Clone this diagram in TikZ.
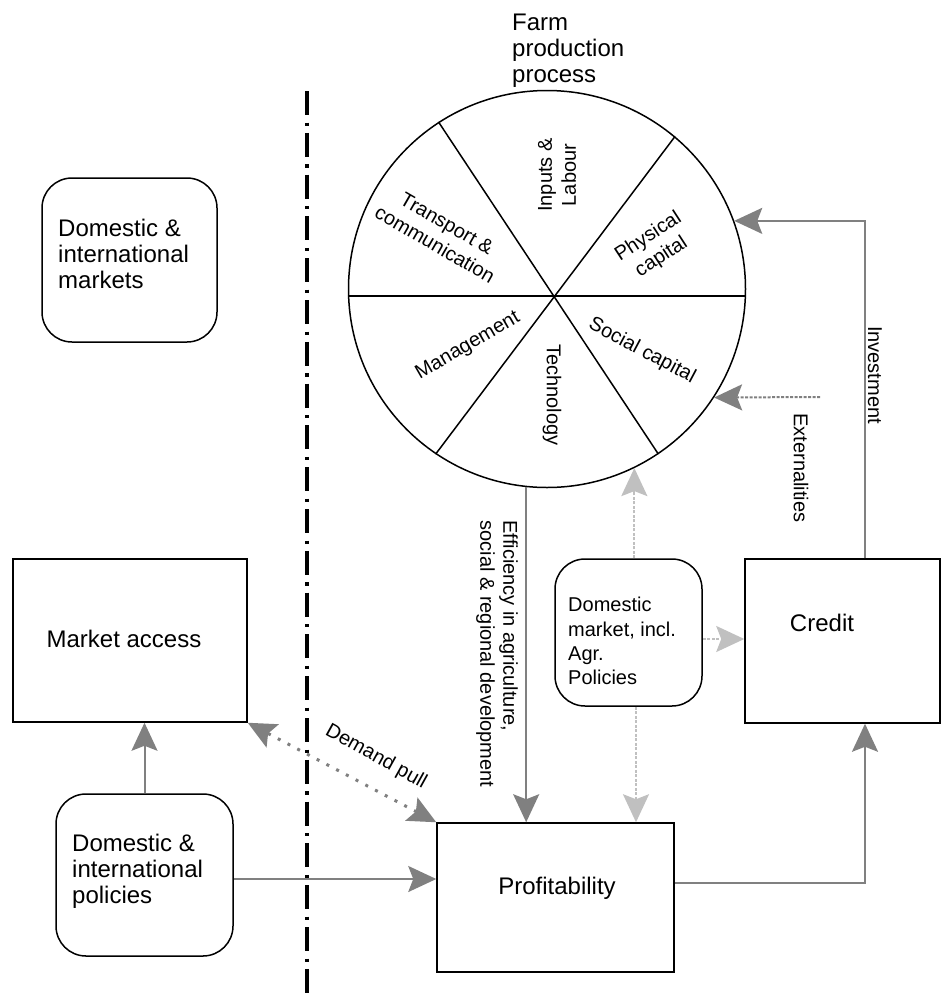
\documentclass[tikz,border=0pt]{standalone}
\usepackage{fontspec}
\setmainfont{Liberation Sans}
\usetikzlibrary{arrows.meta}
\definecolor{dgray}{HTML}{808080}
\definecolor{lgray}{HTML}{C0C0C0}
\tikzset{
  big/.style={font=\fontsize{24}{26}\selectfont, inner sep=0pt},
  small/.style={font=\fontsize{20}{24}\selectfont, inner sep=0pt},
  box/.style={draw, line width=1.5pt, inner sep=0pt},
  rbox/.style={box, rounded corners=30pt},
  headtip/.tip={Stealth[length=28pt,width=26pt,inset=5pt]},
  flow/.style={dgray, line width=2pt, -headtip},
  lflow/.style={lgray, line width=2pt, dash pattern=on 3pt off 1.5pt, -headtip},
  dflow/.style={dgray, line width=2pt, dash pattern=on 3pt off 1.5pt, -headtip},
  demand/.style={dgray, line width=3pt, dash pattern=on 3pt off 8pt, headtip-headtip},
  divider/.style={black, line width=3.3pt, dash pattern=on 24pt off 7.5pt on 3.3pt off 7pt},
  spoke/.style={black, line width=1.5pt}
}
\begin{document}
\begin{tikzpicture}[x=1pt,y=-1pt]
\useasboundingbox[fill=white] (0,0) rectangle (943,994);

% divider
\coordinate (dtop) at (307,91);
\coordinate (dbot) at (307,993);
\draw[divider] (dtop) -- (dbot);

% wheel
\node[draw, line width=1.5pt, circle, minimum size=397pt, inner sep=0pt] (wheel) at (547,289) {};
\draw[spoke] (wheel.182.3) -- (wheel.-2.3);
\draw[spoke] (wheel.123.3) -- (wheel.-56.5);
\draw[spoke] (wheel.50.7) -- (wheel.236.7);

\node[big, anchor=west, align=left] (title) at (512,51) {Farm\\production\\process};

\node[small, align=center, rotate=90] (inputs) at (557,175) {Inputs \&\\Labour};
\node[small, align=center, rotate=-30] (transport) at (441,234) {Transport \&\\communication};
\node[small, align=center, rotate=33] (physical) at (655,247) {Physical\\capital};
\node[small, rotate=30] (mgmt) at (468,346) {Management};
\node[small, rotate=-90] (tech) at (552,395) {Technology};
\node[small, rotate=-28] (social) at (642,351) {Social capital};

% boxes
\node[rbox, minimum width=175pt, minimum height=164pt] (mkts) at (129.5,260) {};
\node[big, anchor=west, align=left] (mktstxt) at (58,254) {Domestic \&\\international\\markets};

\node[box, minimum width=234pt, minimum height=163pt] (access) at (130,640.5) {};
\node[big] (accesstxt) at (124,638.5) {Market access};

\node[rbox, minimum width=177pt, minimum height=162pt] (pol) at (144.5,875) {};
\node[big, anchor=west, align=left] (poltxt) at (72,871) {Domestic \&\\international\\policies};

\node[box, minimum width=237pt, minimum height=149pt] (profit) at (555.5,897.5) {};
\node[big] (profittxt) at (557,888) {Profitability};

\node[box, minimum width=195pt, minimum height=164pt] (credit) at (842.5,641) {};
\node[big] (credittxt) at (822,623) {Credit};

\node[rbox, minimum width=147pt, minimum height=147pt] (dommkt) at (628.5,632.5) {};
\node[small, anchor=west, align=left, font=\fontsize{20}{24.2}\selectfont] (dommkttxt) at (568,641) {Domestic\\market, incl.\\Agr.\\Policies};

% helper coordinates
\coordinate (h879) at (0,879);
\coordinate (h883) at (0,883);
\coordinate (h639) at (0,639);
\coordinate (v636) at (636,0);
\coordinate (v865) at (865,0);
\coordinate (ext) at (820,397);

% connectors
\draw[flow] (pol.north) -- (access.south -| pol.north);
\draw[flow] (pol.east |- h879) -- (profit.west |- h879);
\draw[demand] (profit.north west) -- (access.south east);
\draw[flow] (wheel.-96.4) -- (wheel.-96.4 |- profit.north);
\draw[lflow] (wheel.-64.3 |- dommkt.north) -- (wheel.-64.3);
\draw[lflow] (dommkt.south -| v636) -- (profit.north -| v636);
\draw[lflow] (dommkt.east |- h639) -- (credit.west |- h639);
\draw[flow] (profit.east |- h883) -- (v865 |- h883) -- (credit.south -| v865);
\draw[flow] (credit.north -| v865) -- (v865 |- wheel.20.3) -- (wheel.20.3);
\draw[dflow] (ext) -- (wheel.-33);

% labels
\node[small, rotate=-29] (demandtxt) at (376,757) {Demand pull};
\node[small, rotate=-90, align=left, font=\fontsize{20}{23}\selectfont] (efftxt) at (497,654) {Efficiency in agriculture,\\social \& regional development};
\node[small, rotate=-90] (invtxt) at (875,375) {Investment};
\node[small, rotate=-90] (exttxt) at (801,468) {Externalities};
\end{tikzpicture}
\end{document}
